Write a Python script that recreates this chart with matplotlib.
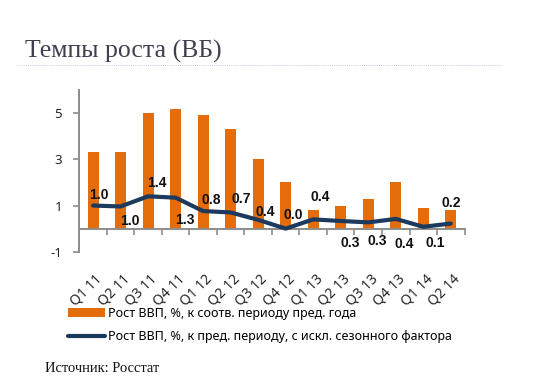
import matplotlib.pyplot as plt
import matplotlib.transforms as mtransforms
from matplotlib.lines import Line2D
import numpy as np

plt.rcParams['font.family'] = ['Noto Sans', 'DejaVu Sans']

# данные
quarters = ['Q1 11', 'Q2 11', 'Q3 11', 'Q4 11', 'Q1 12', 'Q2 12', 'Q3 12',
            'Q4 12', 'Q1 13', 'Q2 13', 'Q3 13', 'Q4 13', 'Q1 14', 'Q2 14']
gdp_yoy = [3.3, 3.3, 5.0, 5.2, 4.9, 4.3, 3.0, 2.0, 0.8, 1.0, 1.3, 2.0, 0.9, 0.8]
gdp_qoq = [1.0, 0.96, 1.4, 1.34, 0.76, 0.7, 0.38, 0.0, 0.4, 0.33, 0.27, 0.42, 0.08, 0.22]
yticks = [-1, 1, 3, 5]

# смещения подписей (в пикселях), как в исходной картинке
label_offsets = [(6, 11), (9, -15), (9, 13), (9, -22), (8, 11), (11, 13), (7, 8),
                 (8, 14), (7, 22), (10, -22), (9, -19), (8, -25), (12, -16), (0, 21)]

orange = '#E46C0A'
navy = '#1B3A5E'
axis_gray = '#8C8C8C'

fig = plt.figure(figsize=(5.6, 3.9), dpi=100)
ax = fig.add_axes([0.1416, 0.3546, 0.688, 0.4144])

x = np.arange(len(quarters))
bars = ax.bar(x, gdp_yoy, width=0.4, color=orange, zorder=2)
line, = ax.plot(x, gdp_qoq, color=navy, lw=3, solid_capstyle='round', zorder=3)

for xi, v, (dx, dy) in zip(x, gdp_qoq, label_offsets):
    ax.annotate(f'{v:.1f}', (xi, v), xytext=(dx, dy), textcoords='offset pixels',
                ha='center', va='center', fontsize=10, fontweight='bold',
                family=['Liberation Sans', 'DejaVu Sans'],
                color='#111111', zorder=4)

ax.set_xlim(-0.5, len(quarters) - 0.5)
ax.set_ylim(-1, 6)
ax.set_yticks(yticks)
ax.set_yticklabels([str(t) for t in yticks])

ax.spines['top'].set_visible(False)
ax.spines['right'].set_visible(False)
ax.spines['bottom'].set_position(('data', 0))
ax.spines['left'].set_bounds(-1, 6)
for s in ('left', 'bottom'):
    ax.spines[s].set_color(axis_gray)
    ax.spines[s].set_linewidth(1.4)

ax.tick_params(axis='y', length=4.5, width=1.2, color=axis_gray, pad=8,
               labelsize=9.5, labelcolor='#222222')
ax.set_xticks(x)
ax.set_xticklabels(quarters)
ax.set_xticks(np.arange(0.5, len(quarters), 1), minor=True)
ax.tick_params(axis='x', which='major', length=0, pad=35, labelsize=10,
               labelcolor='#222222')
ax.tick_params(axis='x', which='minor', length=4.5, width=1.2, color=axis_gray,
               direction='out')

shift = mtransforms.ScaledTranslation(7 / 100, 0, fig.dpi_scale_trans)
for lbl in ax.get_xticklabels():
    lbl.set_rotation(45)
    lbl.set_ha('right')
    lbl.set_va('center')
    lbl.set_rotation_mode('anchor')
    lbl.set_transform(lbl.get_transform() + shift)

ax.legend([bars, line],
          ['Рост ВВП, %, к соотв. периоду пред. года',
           'Рост ВВП, %, к пред. периоду, с искл. сезонного фактора'],
          loc='upper left', bbox_to_anchor=(0.122, 0.214), bbox_transform=fig.transFigure,
          frameon=False, fontsize=9, borderpad=0, borderaxespad=0,
          handlelength=2.9, handletextpad=0.3, labelspacing=0.85)

# заголовок и источник
fig.text(0.045, 0.853, 'Темпы роста (ВБ)', family='Liberation Serif', fontsize=18.5,
         color='#3F3F4F', ha='left', va='baseline')
fig.add_artist(Line2D([0.031, 0.897], [0.833, 0.833], transform=fig.transFigure,
                      color='#BFCCDA', lw=0.7, ls=(0, (1, 1.2))))
fig.text(0.08, 0.047, 'Источник: Росстат', family='Liberation Serif', fontsize=10.5,
         color='#111111', ha='left', va='baseline')

fig.savefig('out.png', dpi=100)
